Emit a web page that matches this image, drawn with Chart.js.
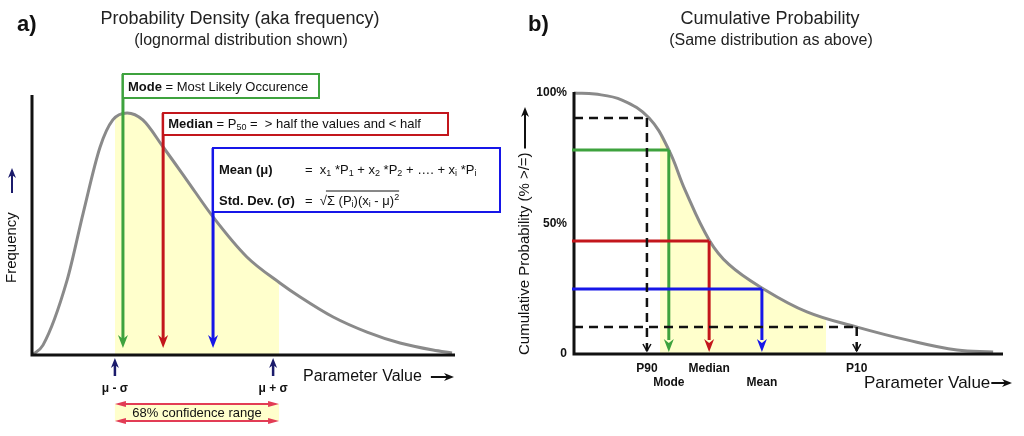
<!DOCTYPE html>
<html lang="en">
<head>
<meta charset="UTF-8">
<title>Probability Density and Cumulative Probability</title>
<script src="https://cdn.jsdelivr.net/npm/chart.js"></script>
<style>
  body { margin: 0; background: #fff; font-family: "Liberation Sans", Arial, sans-serif; color: #222; }
  .page { position: relative; width: 1024px; height: 436px; overflow: hidden; }
  .panel { position: absolute; top: 0; width: 512px; height: 436px; }
  .title { position: absolute; white-space: nowrap; transform: translateX(-50%); }
  .t1 { font-size: 18px; line-height: 20px; top: 8px; }
  .t2 { font-size: 16px; line-height: 18px; top: 31px; }
  .letter { position: absolute; top: 12px; font-size: 22px; line-height: 24px; font-weight: bold; color: #111; }
</style>
</head>
<body>
<div class="page">
  <div class="panel" style="left:0"><canvas id="densityChart"></canvas></div>
  <div class="panel" style="left:512px"><canvas id="cdfChart"></canvas></div>

  <div class="letter" style="left:17px">a)</div>
  <div class="title t1" style="left:240px">Probability Density (aka frequency)</div>
  <div class="title t2" style="left:241px">(lognormal distribution shown)</div>

  <div class="letter" style="left:528px">b)</div>
  <div class="title t1" style="left:770px">Cumulative Probability</div>
  <div class="title t2" style="left:771px">(Same distribution as above)</div>
</div>

<script>
  // ---- panel a: density curve ----
  const densityX = [0, 2.6, 8.3, 12.1, 16.1, 19.1, 22.5, 26.2, 31, 36.6, 42.8, 50.8, 58.6, 63.4, 71.2, 79.2, 87, 94.8, 99.3];
  const densityY = [0, 3.8, 28.8, 54.6, 80, 90.4, 93.1, 90.4, 80, 67.3, 53.1, 37.7, 27.7, 22.3, 14.6, 8.8, 4.6, 1.9, 0.8];
  const statNames = ['Mode', 'Median', 'Mean'];
  const statX = [21.5, 31, 42.8];
  const sigmaX = [19.6, 57];
  const sigmaLabels = ['\u03bc - \u03c3', '\u03bc + \u03c3'];
  const sigmaBand = [19.6, 58.4];

  // ---- panel b: cumulative curve ----
  const cdfX = [0, 4.9, 11.2, 17.5, 22.1, 25.9, 31.5, 36.1, 43.8, 54.3, 66, 77.6, 89.3, 97.7];
  const cdfY = [100, 99.6, 97.3, 90.4, 78.2, 62.8, 43.7, 34.3, 25.3, 16.1, 10.3, 5.4, 1.5, 0.8];
  const cdfMarkers = ['P90', 'Mode', 'Median', 'Mean', 'P10'];
  const cdfMarkerX = [17.0, 22.1, 31.5, 43.8, 65.9];
  const cdfMarkerY = [90.4, 78.2, 43.3, 24.9, 10.3];
  const cdfBand = [20.0, 58.7];
  const cdfTicks = [0, 50, 100];
  const cdfTickLabels = ['0', '50%', '100%'];

  const FONT = '"Liberation Sans", Arial, sans-serif';
  const GREEN = '#3ea23e', RED = '#c3161c', BLUE = '#1616e8', NAVY = '#1b1b6b';
  const statColors = [GREEN, RED, BLUE];
  const YELLOW = '#ffffcc';

  function pts(xs, ys) {
    return xs.map((x, i) => ({ x: x, y: ys[i] }));
  }

  // horizontal gradient with hard stops = yellow only inside the band
  function bandFill(band) {
    return function (c) {
      const chart = c.chart;
      const xs = chart.scales.x;
      if (!chart.chartArea || !xs) return 'rgba(0,0,0,0)';
      const w = chart.width;
      const p1 = xs.getPixelForValue(band[0]) / w;
      const p2 = xs.getPixelForValue(band[1]) / w;
      const g = chart.ctx.createLinearGradient(0, 0, w, 0);
      g.addColorStop(0, 'rgba(255,255,204,0)');
      g.addColorStop(p1, 'rgba(255,255,204,0)');
      g.addColorStop(p1, YELLOW);
      g.addColorStop(p2, YELLOW);
      g.addColorStop(p2, 'rgba(255,255,204,0)');
      g.addColorStop(1, 'rgba(255,255,204,0)');
      return g;
    };
  }

  function richText(ctx, x, y, parts, size) {
    let cx = x;
    for (const [txt, style] of parts) {
      const small = style === 's' || style === 'p';
      const fs = small ? Math.round(size * 0.68) : size;
      ctx.font = (style === 'b' ? 'bold ' : '') + fs + 'px ' + FONT;
      const dy = style === 's' ? size * 0.3 : style === 'p' ? -size * 0.3 : 0;
      ctx.fillText(txt, cx, y + dy);
      cx += ctx.measureText(txt).width;
    }
    return cx;
  }

  function headDown(ctx, x, y, color) {
    ctx.fillStyle = color;
    ctx.beginPath();
    ctx.moveTo(x, y);
    ctx.lineTo(x - 5, y - 13);
    ctx.lineTo(x, y - 9);
    ctx.lineTo(x + 5, y - 13);
    ctx.closePath();
    ctx.fill();
  }

  function headUp(ctx, x, y, color) {
    ctx.fillStyle = color;
    ctx.beginPath();
    ctx.moveTo(x, y);
    ctx.lineTo(x - 4, y + 10);
    ctx.lineTo(x, y + 7);
    ctx.lineTo(x + 4, y + 10);
    ctx.closePath();
    ctx.fill();
  }

  function headRight(ctx, x, y, color) {
    ctx.fillStyle = color;
    ctx.beginPath();
    ctx.moveTo(x, y);
    ctx.lineTo(x - 10, y - 4);
    ctx.lineTo(x - 7, y);
    ctx.lineTo(x - 10, y + 4);
    ctx.closePath();
    ctx.fill();
  }

  function line(ctx, x1, y1, x2, y2, color, w, dash) {
    ctx.save();
    ctx.strokeStyle = color;
    ctx.lineWidth = w;
    ctx.setLineDash(dash || []);
    ctx.beginPath();
    ctx.moveTo(x1, y1);
    ctx.lineTo(x2, y2);
    ctx.stroke();
    ctx.restore();
  }

  function curveDataset(xs, ys, band, smooth) {
    const ds = {
      data: pts(xs, ys),
      borderColor: '#8a8a8a',
      borderWidth: 3,
      pointRadius: 0,
      fill: 'origin',
      backgroundColor: bandFill(band),
      clip: false
    };
    if (smooth === 'monotone') ds.cubicInterpolationMode = 'monotone';
    else ds.tension = 0.4;
    return ds;
  }

  function baseOptions(padding) {
    return {
      responsive: true,
      maintainAspectRatio: false,
      animation: false,
      events: [],
      layout: { padding: padding },
      plugins: { legend: { display: false }, tooltip: { enabled: false } },
      scales: {
        x: { type: 'linear', min: 0, max: 100, display: false },
        y: { type: 'linear', min: 0, max: 100, display: false }
      }
    };
  }

  // boxes for Mode / Median / Mean (top, height, right edge in px)
  const boxLayout = [
    { top: 74, h: 24, right: 319 },
    { top: 113, h: 22, right: 448 },
    { top: 148, h: 64, right: 500 }
  ];

  const densityDecor = {
    id: 'densityDecor',
    afterDatasetsDraw(chart) {
      const ctx = chart.ctx;
      const a = chart.chartArea;
      const X = v => chart.scales.x.getPixelForValue(v);
      const Y = v => chart.scales.y.getPixelForValue(v);
      ctx.save();

      // axes
      ctx.strokeStyle = '#111';
      ctx.lineWidth = 3;
      ctx.beginPath();
      ctx.moveTo(a.left, a.top);
      ctx.lineTo(a.left, a.bottom);
      ctx.lineTo(a.right, a.bottom);
      ctx.stroke();

      // stat arrows and boxes
      statX.forEach((v, i) => {
        const x = X(v), b = boxLayout[i], col = statColors[i];
        line(ctx, x, b.top, x, Y(0) - 14, col, 3);
        headDown(ctx, x, Y(0) - 7, col);
        ctx.fillStyle = '#fff';
        ctx.fillRect(x, b.top, b.right - x, b.h);
        ctx.strokeStyle = col;
        ctx.lineWidth = 2;
        ctx.strokeRect(x, b.top, b.right - x, b.h);
      });

      ctx.fillStyle = '#111';
      ctx.textBaseline = 'middle';
      ctx.textAlign = 'left';
      const sz = 13;
      richText(ctx, X(statX[0]) + 5, 87, [[statNames[0], 'b'], [' = Most Likely Occurence', '']], sz);
      richText(ctx, X(statX[1]) + 5, 124, [[statNames[1], 'b'], [' = P', ''], ['50', 's'], [' =  > half the values and < half', '']], sz);
      const mx = X(statX[2]) + 6;
      richText(ctx, mx, 170, [[statNames[2] + ' (\u03bc)', 'b']], sz);
      richText(ctx, 305, 170, [['=  x', ''], ['1', 's'], [' *P', ''], ['1', 's'], [' + x', ''], ['2', 's'], [' *P', ''], ['2', 's'], [' + \u2026. + x', ''], ['i', 's'], [' *P', ''], ['i', 's']], sz);
      richText(ctx, mx, 201, [['Std. Dev. (\u03c3)', 'b']], sz);
      const sx = richText(ctx, 305, 201, [['=  \u221a', '']], sz);
      const ex = richText(ctx, sx, 201, [['\u03a3 (P', ''], ['i', 's'], [')(x', ''], ['i', 's'], [' - \u03bc)', ''], ['2', 'p']], sz);
      line(ctx, sx - 1, 191, ex, 191, '#111', 1);

      // sigma markers
      sigmaX.forEach((v, i) => {
        const x = X(v);
        line(ctx, x, 376, x, 364, NAVY, 2.5);
        headUp(ctx, x, 358, NAVY);
        ctx.fillStyle = '#111';
        ctx.font = 'bold 12px ' + FONT;
        ctx.textAlign = 'center';
        ctx.fillText(sigmaLabels[i], x, 389);
      });

      // x axis title
      ctx.textAlign = 'left';
      ctx.font = '16px ' + FONT;
      ctx.fillStyle = '#111';
      ctx.fillText('Parameter Value', 303, 377);
      const tw = ctx.measureText('Parameter Value').width;
      line(ctx, 303 + tw + 9, 377, 447, 377, '#111', 2);
      headRight(ctx, 454, 377, '#111');

      // 68% confidence band
      const b1 = X(sigmaBand[0]), b2 = X(sigmaBand[1]);
      ctx.fillStyle = YELLOW;
      ctx.fillRect(b1, 404, b2 - b1, 17);
      const pink = '#e23c55';
      [404, 421].forEach(yy => {
        line(ctx, b1 + 4, yy, b2 - 4, yy, pink, 2);
        ctx.fillStyle = pink;
        ctx.beginPath();
        ctx.moveTo(b1, yy); ctx.lineTo(b1 + 11, yy - 3); ctx.lineTo(b1 + 11, yy + 3); ctx.closePath(); ctx.fill();
        ctx.beginPath();
        ctx.moveTo(b2, yy); ctx.lineTo(b2 - 11, yy - 3); ctx.lineTo(b2 - 11, yy + 3); ctx.closePath(); ctx.fill();
      });
      ctx.fillStyle = '#111';
      ctx.font = '13px ' + FONT;
      ctx.textAlign = 'center';
      ctx.fillText('68% confidence range', (b1 + b2) / 2, 413);

      // y axis title
      ctx.translate(12, 241);
      ctx.rotate(-Math.PI / 2);
      ctx.textAlign = 'left';
      ctx.font = '15px ' + FONT;
      ctx.fillStyle = '#111';
      ctx.fillText('Frequency', -42, 0);
      line(ctx, 48, 0, 66, 0, NAVY, 2);
      headRight(ctx, 73, 0, NAVY);
      ctx.restore();
    }
  };

  const cdfDecor = {
    id: 'cdfDecor',
    afterDatasetsDraw(chart) {
      const ctx = chart.ctx;
      const a = chart.chartArea;
      const X = v => chart.scales.x.getPixelForValue(v);
      const Y = v => chart.scales.y.getPixelForValue(v);
      ctx.save();

      // axes
      ctx.strokeStyle = '#111';
      ctx.lineWidth = 3;
      ctx.beginPath();
      ctx.moveTo(a.left, a.top - 1);
      ctx.lineTo(a.left, a.bottom);
      ctx.lineTo(a.right, a.bottom);
      ctx.stroke();

      // tick labels
      ctx.fillStyle = '#111';
      ctx.font = 'bold 12px ' + FONT;
      ctx.textAlign = 'right';
      ctx.textBaseline = 'middle';
      cdfTicks.forEach((t, i) => ctx.fillText(cdfTickLabels[i], a.left - 7, Y(t)));

      // marker lines: dashed for P90/P10, coloured for the stats
      const colorOf = { Mode: GREEN, Median: RED, Mean: BLUE };
      const order = [1, 2, 3, 0, 4];
      order.forEach(i => {
        const name = cdfMarkers[i];
        const x = X(cdfMarkerX[i]), y = Y(cdfMarkerY[i]);
        const col = colorOf[name];
        if (col) {
          line(ctx, a.left - 2, y, x, y, col, 3);
          line(ctx, x, y, x, a.bottom - 14, col, 3);
          headDown(ctx, x, a.bottom - 2, col);
        } else {
          line(ctx, a.left, y, x, y, '#111', 2.5, [9, 6]);
          line(ctx, x, y, x, a.bottom - 3, '#111', 2.5, [9, 6]);
          ctx.strokeStyle = '#111';
          ctx.lineWidth = 1.5;
          ctx.beginPath();
          ctx.moveTo(x - 4, a.bottom - 10);
          ctx.lineTo(x, a.bottom - 3);
          ctx.lineTo(x + 4, a.bottom - 10);
          ctx.stroke();
        }
      });

      // marker labels, alternating rows
      ctx.fillStyle = '#111';
      ctx.font = 'bold 12px ' + FONT;
      ctx.textAlign = 'center';
      cdfMarkers.forEach((name, i) => {
        ctx.fillText(name, X(cdfMarkerX[i]), i % 2 ? 383 : 369);
      });

      // x axis title
      ctx.textAlign = 'left';
      ctx.font = '17px ' + FONT;
      ctx.fillText('Parameter Value', 864 - 512, 383);
      const tw = ctx.measureText('Parameter Value').width;
      line(ctx, 864 - 512 + tw + 1, 383, 1005 - 512, 383, '#111', 2);
      headRight(ctx, 1012 - 512, 383, '#111');

      // y axis title
      ctx.translate(525 - 512, 355);
      ctx.rotate(-Math.PI / 2);
      ctx.font = '15px ' + FONT;
      ctx.fillText('Cumulative Probability (% >/=)', 0, 0);
      const yw = ctx.measureText('Cumulative Probability (% >/=)').width;
      line(ctx, yw + 4, 0, 241, 0, '#111', 2);
      headRight(ctx, 248, 0, '#111');
      ctx.restore();
    }
  };

  new Chart(document.getElementById('densityChart'), {
    type: 'line',
    data: { datasets: [curveDataset(densityX, densityY, sigmaBand, 'monotone')] },
    options: baseOptions({ left: 32, right: 57, top: 95, bottom: 81 }),
    plugins: [densityDecor]
  });

  new Chart(document.getElementById('cdfChart'), {
    type: 'line',
    data: { datasets: [curveDataset(cdfX, cdfY, cdfBand, 'tension')] },
    options: baseOptions({ left: 62, right: 21, top: 93, bottom: 82 }),
    plugins: [cdfDecor]
  });
</script>
</body>
</html>
